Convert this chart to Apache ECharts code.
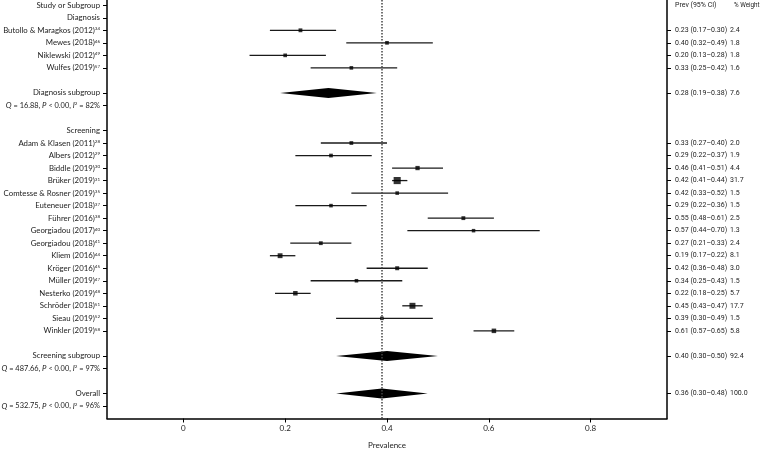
<!DOCTYPE html>
<html>
<head>
<meta charset="utf-8">
<script src="https://cdn.jsdelivr.net/npm/echarts@6/dist/echarts.min.js"></script>
<style>
  html, body { margin: 0; padding: 0; background: #fff; }
  #chart { width: 764px; height: 450px; }
</style>
</head>
<body>
<div id="chart"></div>
<script>
'use strict';

var FONT = "Lato, 'Liberation Sans', sans-serif";
var NUM_FONT = "Roboto, 'Liberation Sans', sans-serif";

// studies
var studyNames = ['Butollo & Maragkos (2012)', 'Mewes (2018)', 'Niklewski (2012)', 'Wulfes (2019)',
    'Adam & Klasen (2011)', 'Albers (2012)', 'Biddle (2019)', 'Brüker (2019)', 'Comtesse & Rosner (2019)',
    'Euteneuer (2018)', 'Führer (2016)', 'Georgiadou (2017)', 'Georgiadou (2018)', 'Kliem (2016)',
    'Kröger (2016)', 'Müller (2019)', 'Nesterko (2019)', 'Schröder (2018)', 'Sieau (2019)', 'Winkler (2019)'];
var studyRefs = ['34', '46', '49', '57', '28', '29', '30', '31', '35', '37', '38', '40', '41', '44', '45', '47', '48', '51', '52', '58'];
var studyRows = [2, 3, 4, 5, 11, 12, 13, 14, 15, 16, 17, 18, 19, 20, 21, 22, 23, 24, 25, 26];
var studyPrev = [0.23, 0.40, 0.20, 0.33, 0.33, 0.29, 0.46, 0.42, 0.42, 0.29, 0.55, 0.57, 0.27, 0.19, 0.42, 0.34, 0.22, 0.45, 0.39, 0.61];
var studyLo = [0.17, 0.32, 0.13, 0.25, 0.27, 0.22, 0.41, 0.41, 0.33, 0.22, 0.48, 0.44, 0.21, 0.17, 0.36, 0.25, 0.18, 0.43, 0.30, 0.57];
var studyHi = [0.30, 0.49, 0.28, 0.42, 0.40, 0.37, 0.51, 0.44, 0.52, 0.36, 0.61, 0.70, 0.33, 0.22, 0.48, 0.43, 0.25, 0.47, 0.49, 0.65];
var studyWeight = [2.4, 1.8, 1.8, 1.6, 2.0, 1.9, 4.4, 31.7, 1.5, 1.5, 2.5, 1.3, 2.4, 8.1, 3.0, 1.5, 5.7, 17.7, 1.5, 5.8];

// pooled estimates
var pooledNames = ['Diagnosis subgroup', 'Screening subgroup', 'Overall'];
var pooledRows = [7, 28, 31];
var pooledPrev = [0.28, 0.40, 0.36];
var pooledLo = [0.19, 0.30, 0.30];
var pooledHi = [0.38, 0.50, 0.48];
var pooledPeak = [0.285, 0.40, 0.39];
var pooledWeight = [7.6, 92.4, 100.0];

// heterogeneity lines
var hetRows = [8, 29, 32];
var hetQ = ['16.88', '487.66', '532.75'];
var hetP = ['0.00', '0.00', '0.00'];
var hetI2 = [82, 97, 96];

var groupNames = ['Study or Subgroup', 'Diagnosis', 'Screening'];
var groupRows = [0, 1, 10];

var xTicks = [0, 0.2, 0.4, 0.6, 0.8];
var refLine = 0.39;

// label lookups by row
var leftLabels = {};
var rightLabels = {};
for (var i = 0; i < groupNames.length; i++) {
    leftLabels[groupRows[i]] = groupNames[i];
}
for (var i = 0; i < studyNames.length; i++) {
    leftLabels[studyRows[i]] = studyNames[i] + '{s|' + studyRefs[i] + '}';
    rightLabels[studyRows[i]] = '{v|' + studyPrev[i].toFixed(2) + ' (' + studyLo[i].toFixed(2) + '–' + studyHi[i].toFixed(2) + ')}{w|' + studyWeight[i].toFixed(1) + '}';
}
for (var i = 0; i < pooledNames.length; i++) {
    leftLabels[pooledRows[i]] = pooledNames[i];
    rightLabels[pooledRows[i]] = '{v|' + pooledPrev[i].toFixed(2) + ' (' + pooledLo[i].toFixed(2) + '–' + pooledHi[i].toFixed(2) + ')}{w|' + pooledWeight[i].toFixed(1) + '}';
}
for (var i = 0; i < hetRows.length; i++) {
    leftLabels[hetRows[i]] = '{i|Q}{q| = ' + hetQ[i] + ', }{i|P}{q| < ' + hetP[i] + ', }{i|I}{s|2}{q| = ' + hetI2[i] + '%}';
}
rightLabels[0] = '{h|Prev (95% CI)}{hw|% Weight}';

var leftRows = Object.keys(leftLabels).map(Number);
var rightTickRows = studyRows.concat(pooledRows);
var rightLabelRows = [0].concat(rightTickRows);

var ciData = [];
var pointData = [];
for (var i = 0; i < studyRows.length; i++) {
    ciData.push([studyRows[i], studyLo[i], studyHi[i]]);
    pointData.push([studyPrev[i], studyRows[i]]);
}
var diamondData = [];
for (var i = 0; i < pooledRows.length; i++) {
    diamondData.push([pooledRows[i], pooledLo[i], pooledPeak[i], pooledHi[i]]);
}

var yCommon = {
    type: 'value',
    inverse: true,
    min: -0.42,
    max: 33,
    splitLine: { show: false },
    axisLine: { show: true, onZero: false, lineStyle: { color: '#000', width: 1.5 } }
};

var option = {
    animation: false,
    backgroundColor: '#fff',
    textStyle: { fontFamily: FONT },
    grid: { left: 107, right: 97, top: 0, bottom: 31.5, outerBoundsMode: 'none', containLabel: false },
    xAxis: {
        type: 'value',
        min: -0.15,
        max: 0.95,
        splitLine: { show: false },
        axisLine: { onZero: false, lineStyle: { color: '#000', width: 1.5 } },
        axisTick: { customValues: xTicks, length: 4, lineStyle: { color: '#000', width: 1 } },
        axisLabel: {
            customValues: xTicks,
            margin: 6,
            color: '#222',
            fontSize: 8,
            fontFamily: FONT,
            formatter: function (v) { return v === 0 ? '0' : v.toFixed(1); }
        },
        name: 'Prevalence',
        nameLocation: 'middle',
        nameGap: 23,
        nameTextStyle: { color: '#222', fontSize: 8, fontFamily: FONT }
    },
    yAxis: [
        Object.assign({}, yCommon, {
            position: 'left',
            axisTick: { customValues: leftRows, length: 4, lineStyle: { color: '#000', width: 1 } },
            axisLabel: {
                customValues: leftRows,
                margin: 7,
                color: '#222',
                fontSize: 7.8,
                fontFamily: FONT,
                formatter: function (v) { return leftLabels[v] || ''; },
                rich: {
                    s: { fontSize: 4.5, fontFamily: FONT, color: '#222', verticalAlign: 'top', lineHeight: 8 },
                    i: { fontSize: 7.8, fontFamily: FONT, color: '#222', fontStyle: 'italic' },
                    q: { fontSize: 7.4, fontFamily: FONT, color: '#222' }
                }
            }
        }),
        Object.assign({}, yCommon, {
            position: 'right',
            axisTick: { customValues: rightTickRows, length: 4, lineStyle: { color: '#000', width: 1 } },
            axisLabel: {
                customValues: rightLabelRows,
                margin: 8,
                color: '#222',
                fontSize: 7,
                fontFamily: NUM_FONT,
                formatter: function (v) { return rightLabels[v] || ''; },
                rich: {
                    v: { width: 55, fontSize: 7, fontFamily: NUM_FONT, color: '#222' },
                    w: { fontSize: 7, fontFamily: NUM_FONT, color: '#222' },
                    h: { width: 59, fontSize: 7, fontFamily: NUM_FONT, color: '#222' },
                    hw: { fontSize: 6.3, fontFamily: NUM_FONT, color: '#222' }
                }
            }
        })
    ],
    series: [
        {
            name: 'ci',
            type: 'custom',
            data: ciData,
            encode: { x: [1, 2], y: 0 },
            renderItem: function (params, api) {
                var row = api.value(0);
                var a = api.coord([api.value(1), row]);
                var b = api.coord([api.value(2), row]);
                return {
                    type: 'line',
                    shape: { x1: a[0], y1: a[1], x2: b[0], y2: b[1] },
                    style: { stroke: '#1a1a1a', lineWidth: 1.3 }
                };
            },
            markLine: {
                silent: true,
                symbol: 'none',
                label: { show: false },
                lineStyle: { type: 'dotted', color: '#444', width: 1.5 },
                data: [{ xAxis: refLine }]
            },
            z: 2
        },
        {
            name: 'prev',
            type: 'scatter',
            data: pointData,
            symbol: 'rect',
            symbolSize: function (val, params) {
                return 2.6 + 0.8 * Math.sqrt(studyWeight[params.dataIndex]);
            },
            itemStyle: { color: '#000' },
            z: 3
        },
        {
            name: 'pooled',
            type: 'custom',
            data: diamondData,
            encode: { x: [1, 2, 3], y: 0 },
            renderItem: function (params, api) {
                var row = api.value(0);
                var l = api.coord([api.value(1), row]);
                var m = api.coord([api.value(2), row]);
                var r = api.coord([api.value(3), row]);
                var h = 5;
                return {
                    type: 'polygon',
                    shape: { points: [[l[0], l[1]], [m[0], m[1] - h], [r[0], r[1]], [m[0], m[1] + h]] },
                    style: { fill: '#000' }
                };
            },
            z: 3
        }
    ]
};

var chart = echarts.init(document.getElementById('chart'));
chart.setOption(option);
</script>
</body>
</html>
